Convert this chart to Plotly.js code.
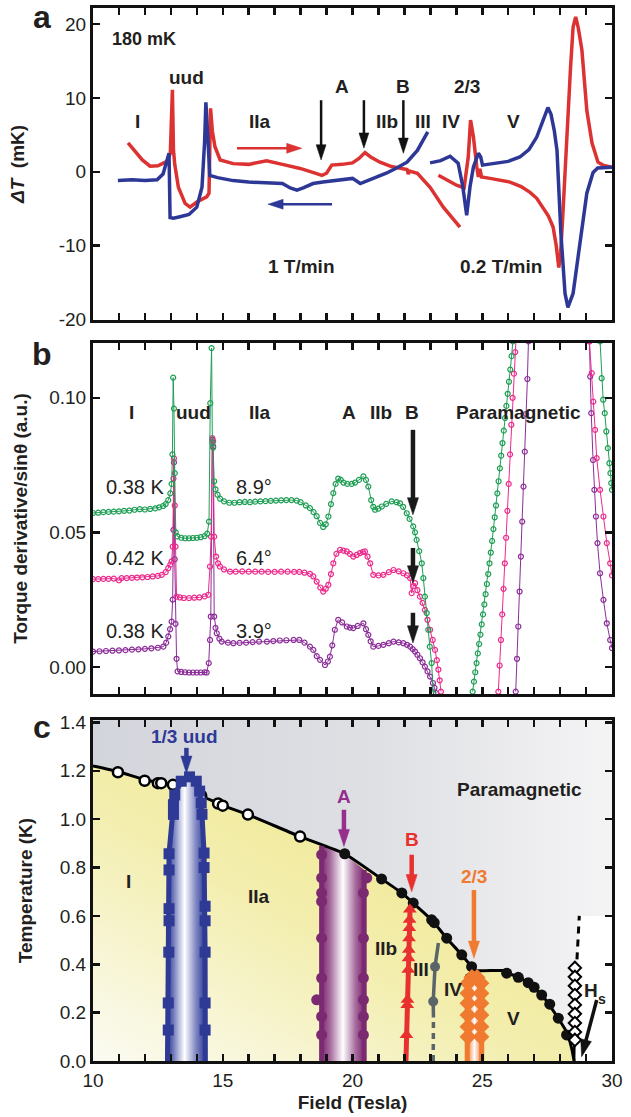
<!DOCTYPE html>
<html><head><meta charset="utf-8">
<script src="https://cdn.plot.ly/plotly-3.0.1.min.js"></script>
<style>html,body{margin:0;padding:0;background:#fff}#chart{width:631px;height:1117px}</style>
</head><body><div id="chart"></div>
<script>
// ---------------- Panel a : ΔT (mK) vs field ----------------
const redUpX1 = [11.35,11.6,11.9,12.2,12.5,12.85,12.98,13.06,13.1,13.15,13.29,13.55,13.74,14.0,14.38,14.47,14.53,14.6,14.7,14.9,15.4,16.0,16.69,17.3,17.98,18.62,18.82,19.0,19.2,19.6,20.0,20.25,20.48,20.7,21.06,21.5,21.83,22.1,22.15,22.2,22.5,22.99,23.5,24.14];
const redUpY1 = [3.9,2.9,1.6,0.75,0.8,1.4,2.5,11.1,3.0,1.0,-2.1,-4.3,-4.8,-4.1,-3.4,-2.9,8.6,5.5,3.4,1.6,1.1,1.0,1.5,1.0,0.45,-0.25,-0.5,-0.2,0.9,1.0,1.2,1.8,2.6,2.0,1.3,0.7,0.5,0.3,-0.3,0.1,-0.2,-2.1,-4.8,-7.5];
const redUpX2 = [23.31,23.7,24.01,24.3,24.46,24.55,24.66,24.79,24.85,24.91,24.97,25.3,25.6,26.07,26.5,26.84,27.1,27.34,27.55,27.73,27.85,27.95,28.02,28.1,28.2,28.3,28.4,28.5,28.6,28.7,28.84,29.03,29.23,29.46,29.65,30.0];
const redUpY2 = [-0.47,-1.2,-1.83,-2.2,2.0,7.0,4.7,0.65,-0.7,0.4,-0.7,-0.9,-1.1,-1.4,-2.0,-2.8,-3.6,-4.8,-6.0,-7.5,-10.0,-13.0,-11.0,-6.2,1.0,7.4,14.0,19.6,21.0,19.5,16.5,8.3,3.9,1.3,0.9,0.6];
const blueDownX1 = [10.96,11.5,12.0,12.47,12.7,12.85,12.93,12.97,13.1,13.35,13.7,14.0,14.2,14.3,14.35,14.42,14.5,14.8,15.4,16.0,16.7,17.3,17.6,17.86,18.1,18.48,18.86,19.4,20.0,20.3,20.6,20.94,21.3,21.7,22.1,22.5,22.9];
const blueDownY1 = [-1.2,-1.1,-1.2,-1.1,-0.3,1.5,2.5,-6.2,-6.3,-6.1,-5.8,-4.8,-2.1,4.0,9.4,5.0,-0.5,-0.8,-1.2,-1.4,-1.5,-1.6,-2.2,-2.5,-2.2,-1.6,-1.4,-1.2,-0.9,-1.6,-1.2,-0.7,-0.2,0.5,1.3,2.9,5.4];
const blueDownX2 = [22.99,23.4,23.76,24.07,24.25,24.4,24.53,24.66,24.85,24.94,25.01,25.57,26.0,26.45,26.8,27.1,27.35,27.53,27.65,27.78,27.88,27.96,28.03,28.19,28.3,28.5,28.77,29.03,29.27,29.45,30.0];
const blueDownY2 = [1.2,1.5,2.1,1.15,-2.0,-5.9,-2.0,0.65,2.5,2.0,0.9,1.2,1.4,2.0,3.0,4.7,7.0,8.7,7.8,5.5,2.9,-3.0,-8.3,-16.5,-18.4,-16.5,-9.3,-2.9,-0.1,0.5,0.6];
const dTTickVals = [-20,-10,0,10,20];
const dTTickText = ['-20','-10','0','10','20'];

// ---------------- Panel b : torque derivative ----------------
const g89X = [10.0,10.2,10.4,10.6,10.8,11.0,11.2,11.4,11.6,11.8,12.0,12.2,12.4,12.55,12.7,12.8,12.9,12.98,13.03,13.06,13.09,13.12,13.15,13.19,13.25,13.4,13.55,13.7,13.85,14.0,14.15,14.3,14.4,14.47,14.52,14.57,14.6,14.63,14.67,14.72,14.8,14.9,15.05,15.25,15.45,15.65,15.85,16.05,16.25,16.45,16.65,16.85,17.05,17.25,17.45,17.65,17.85,18.0,18.2,18.36,18.5,18.62,18.75,18.87,18.97,19.07,19.17,19.26,19.35,19.45,19.55,19.65,19.8,19.97,20.1,20.25,20.42,20.52,20.61,20.72,20.8,20.87,21.0,21.13,21.3,21.51,21.7,21.83,21.95,22.09,22.2,22.34,22.41,22.47,22.57,22.67,22.73,22.79,22.86,22.92,22.98,23.05,23.11,
  null,24.63,24.68,24.73,24.78,24.83,24.88,24.93,24.98,25.03,25.08,25.13,25.18,25.23,25.28,25.33,25.38,25.43,25.48,25.53,25.58,25.63,25.68,25.73,25.78,25.83,25.88,25.93,25.98,26.03,26.08,26.13,26.18,
  null,29.54,29.6,29.66,29.72,29.78,29.84,29.9,29.94,29.97,30.0];
const g89Y = [.0572,.0573,.0575,.0576,.0577,.0578,.0580,.0581,.0584,.0586,.0585,.0587,.0589,.0593,.0598,.0605,.0620,.0645,.0680,.0790,.1075,.0960,.0720,.0500,.0485,.0480,.0478,.0478,.0479,.0480,.0482,.0486,.0495,.0540,.0980,.1185,.0835,.0815,.0690,.0660,.0640,.0625,.0615,.0610,.0610,.0612,.0613,.0612,.0614,.0615,.0616,.0617,.0618,.0619,.0620,.0620,.0618,.0612,.0600,.0590,.0575,.0560,.0535,.0520,.0530,.0559,.0605,.0646,.0680,.0700,.0695,.0685,.0680,.0680,.0685,.0695,.0708,.0695,.0670,.0620,.0595,.0584,.0588,.0596,.0606,.0615,.0612,.0608,.0595,.0571,.0550,.0522,.0500,.0472,.0430,.0385,.0330,.0261,.0200,.0138,.0075,.0014,-.0098,
  null,-.0092,-.0055,-.0020,.0014,.0050,.0085,.0120,.0158,.0195,.0232,.0270,.0308,.0345,.0385,.0425,.0468,.0512,.0556,.0600,.0645,.0690,.0738,.0785,.0832,.0878,.0925,.0970,.1015,.1060,.1105,.1155,.1210,
  null,.1210,.1073,.0993,.0943,.0875,.0813,.0757,.0720,.0683,.0658];
const p64X = [10.0,10.2,10.4,10.6,10.8,11.0,11.1,11.3,11.5,11.7,11.9,12.1,12.3,12.5,12.65,12.8,12.9,12.98,13.03,13.07,13.1,13.12,13.15,13.18,13.22,13.35,13.5,13.7,13.9,14.1,14.3,14.44,14.51,14.55,14.6,14.63,14.67,14.74,14.82,14.89,15.05,15.28,15.5,15.75,16.0,16.25,16.5,16.75,17.0,17.25,17.5,17.75,17.95,18.15,18.36,18.49,18.62,18.76,18.87,18.97,19.07,19.17,19.26,19.38,19.52,19.65,19.78,19.9,20.03,20.16,20.29,20.4,20.48,20.58,20.68,20.8,21.0,21.19,21.4,21.58,21.78,21.96,22.1,22.22,22.28,22.34,22.41,22.5,22.6,22.7,22.79,22.89,22.99,23.09,23.18,23.25,23.31,23.36,23.41,
  null,25.62,25.67,25.72,25.77,25.82,25.87,25.92,25.97,26.02,26.07,26.12,26.17,26.22,26.27,26.3,
  null,29.13,29.22,29.28,29.35,29.41,29.54,29.67,29.8,29.93,30.0];
const p64Y = [.0326,.0326,.0327,.0327,.0328,.0322,.0330,.0330,.0331,.0332,.0333,.0334,.0336,.0338,.0342,.0352,.0367,.0380,.0392,.0447,.0700,.0775,.0600,.0447,.0261,.0258,.0256,.0256,.0257,.0258,.0262,.0268,.0373,.0484,.0850,.0838,.0484,.0410,.0385,.0373,.0362,.0354,.0354,.0355,.0354,.0354,.0354,.0353,.0353,.0354,.0354,.0353,.0353,.0350,.0346,.0336,.0317,.0295,.0280,.0290,.0305,.0345,.0385,.0420,.0435,.0432,.0429,.0420,.0410,.0416,.0423,.0427,.0429,.0410,.0385,.0342,.0340,.0342,.0352,.0360,.0355,.0348,.0340,.0330,.0274,.0300,.0311,.0285,.0261,.0238,.0212,.0175,.0138,.0100,.0063,.0025,-.0010,-.0050,-.0092,
  null,-.0092,.0005,.0100,.0195,.0290,.0385,.0480,.0580,.0680,.0790,.0900,.1000,.1090,.1170,.1215,
  null,.1210,.1092,.0986,.0881,.0776,.0658,.0559,.0460,.0385,.0340];
const p39X = [10.0,10.25,10.5,10.75,11.0,11.25,11.5,11.75,12.0,12.25,12.5,12.71,12.82,12.9,12.97,13.03,13.07,13.1,13.12,13.15,13.18,13.22,13.26,13.4,13.55,13.7,13.85,14.0,14.15,14.3,14.38,14.46,14.51,14.54,14.6,14.63,14.67,14.72,14.77,14.87,14.96,15.2,15.41,15.65,15.9,16.15,16.4,16.7,16.95,17.2,17.45,17.73,17.95,18.15,18.36,18.49,18.62,18.75,18.94,19.05,19.13,19.22,19.32,19.45,19.6,19.78,19.9,20.03,20.2,20.42,20.52,20.61,20.7,20.8,21.0,21.19,21.4,21.58,21.78,21.96,22.1,22.22,22.32,22.41,22.5,22.6,22.7,22.79,22.89,22.99,23.1,23.16,23.22,
  null,26.29,26.34,26.39,26.44,26.49,26.54,26.59,26.64,26.69,26.74,26.78,
  null,29.13,29.16,29.2,29.27,29.32,29.38,29.44,29.54,29.67,29.8,29.93,30.0];
const p39Y = [.0057,.0058,.0059,.0060,.0061,.0062,.0064,.0065,.0067,.0069,.0071,.0075,.0090,.0113,.0140,.0168,.0250,.0509,.0760,.0400,.0160,.0030,-.0017,-.0019,-.0020,-.0021,-.0021,-.0021,-.0021,-.0020,-.0021,.0014,.0100,.0187,.0844,.0820,.0187,.0145,.0125,.0105,.0094,.0090,.0088,.0089,.0090,.0092,.0094,.0094,.0096,.0098,.0099,.0100,.0100,.0090,.0075,.0063,.0040,.0026,.0007,.0020,.0038,.0080,.0138,.0175,.0165,.0150,.0146,.0144,.0152,.0162,.0140,.0119,.0095,.0075,.0078,.0082,.0088,.0094,.0091,.0088,.0082,.0075,.0066,.0057,.0045,.0032,.0017,.0001,-.0017,-.0036,-.0060,-.0078,-.0098,
  null,-.0092,.0030,.0150,.0280,.0410,.0540,.0670,.0800,.0940,.1070,.1210,
  null,.1210,.1079,.0943,.0769,.0658,.0559,.0460,.0348,.0249,.0162,.0100,.0070];
const torqueTickVals = [0, 0.05, 0.10];

// ---------------- Panel c : phase diagram ----------------
const bndX = [10,10.96,11.97,12.58,12.97,14.2,14.82,15.0,15.97,17.98,19.7,21.12,21.9,22.34,23.05,23.63,24.21,24.59,24.75,25.8,25.95,26.38,26.76,27.3,27.92,28.27,28.45,28.54];
const bndT = [1.22,1.197,1.164,1.15,1.14,1.094,1.065,1.056,1.019,0.928,0.857,0.753,0.695,0.653,0.584,0.508,0.439,0.39,0.374,0.374,0.364,0.348,0.323,0.273,0.178,0.116,0.05,0];
const openX = [10.96,11.99,12.5,12.63,13.08,14.17,14.82,15.0,15.97,17.98];
const openT = [1.194,1.159,1.149,1.149,1.142,1.097,1.065,1.056,1.019,0.928];
const fillX = [19.7,21.12,21.9,22.34,23.05,23.15,23.63,24.21,24.59,24.53,25.94,26.39,26.77,27.0,27.29,27.6,27.93,28.25];
const fillT = [0.857,0.753,0.695,0.653,0.584,0.572,0.508,0.439,0.39,0.343,0.363,0.346,0.324,0.305,0.273,0.235,0.177,0.108];
const uudEdgeX = [12.87,12.9,12.93,13.05,13.15,13.4,13.7,13.98,14.11,14.2,14.28,14.32,14.33];
const uudEdgeT = [0,0.45,0.86,1.0,1.1,1.157,1.175,1.157,1.116,1.02,0.86,0.45,0];
const uudSqX = [12.9,12.9,12.92,12.93,12.93,12.93,12.93,13.1,13.1,13.15,13.4,13.72,13.98,14.11,14.17,14.2,14.28,14.28,14.32,14.32,14.32,14.32,14.32];
const uudSqT = [0.128,0.24,0.45,0.58,0.63,0.79,0.857,1.02,1.06,1.10,1.157,1.175,1.157,1.116,1.067,1.02,0.86,0.80,0.64,0.58,0.45,0.24,0.128];
const aBandX = [18.81,18.81,19.7,20.45,20.45];
const aBandT = [0,0.89,0.857,0.79,0];
const aDotX = [18.81,18.81,18.81,18.81,18.81,18.81,18.62,18.81,18.81,20.55,20.42,20.42,20.42,20.42,20.42,20.42];
const aDotT = [0.853,0.757,0.695,0.66,0.508,0.343,0.253,0.184,0.108,0.757,0.695,0.508,0.343,0.253,0.184,0.108];
const bLineX = [22.06,22.22];
const bLineT = [0,0.64];
const bTriX = [22.21,22.2,22.19,22.18,22.17,22.16,22.15,22.12,22.11,22.08];
const bTriT = [0.626,0.584,0.55,0.508,0.46,0.425,0.377,0.253,0.232,0.108];
const iiiSolidX = [23.12,23.11,23.18,23.31];
const iiiSolidT = [0.18,0.246,0.39,0.488];
const iiiDashX = [23.11,23.12];
const iiiDashT = [0,0.18];
const iiiDotX = [23.18,23.11];
const iiiDotT = [0.39,0.246];
const twoThirdBandX = [24.42,24.42,24.55,24.85,24.98,24.98];
const twoThirdBandT = [0,0.33,0.355,0.355,0.33,0];
const twoThirdDiaX = [24.45,24.45,24.45,24.45,24.45,24.45,24.95,24.95,24.95,24.95,24.95,24.95,24.6,24.8];
const twoThirdDiaT = [0.322,0.28,0.239,0.19,0.142,0.1,0.322,0.28,0.239,0.19,0.142,0.1,0.345,0.345];
const hsDiaX = [28.57,28.57,28.57,28.57,28.57,28.57,28.57,28.57,28.57];
const hsDiaT = [0.385,0.348,0.311,0.273,0.232,0.195,0.157,0.12,0.087];
const hsLineX = [28.54,28.6];
const hsLineT = [0,0.4];
const hsDashX = [28.65,28.74];
const hsDashT = [0.42,0.6];
const fieldMajor = [10,15,20,25,30];
const tempTicks = [0,0.2,0.4,0.6,0.8,1.0,1.2,1.4];

// ---------------- arrows (tail -> tip) ----------------
const arrowsA = [ // panel a
  {x:[18.79,18.79], y:[9.7,1.6], c:'#111', w:2.5, s:16},
  {x:[20.44,20.44], y:[9.7,3.2], c:'#111', w:2.5, s:16},
  {x:[21.96,21.96], y:[9.7,2.5], c:'#111', w:2.5, s:16},
  {x:[15.55,18.05], y:[3.18,3.18], c:'#dc3232', w:2.5, s:16},
  {x:[19.21,16.74], y:[-4.4,-4.4], c:'#2d3796', w:2.5, s:16}
];
const arrowsB = [ // panel b
  {x:[22.33,22.33], y:[0.0881,0.0565], c:'#1a1a1a', w:4.5, s:18},
  {x:[22.33,22.33], y:[0.0442,0.0312], c:'#1a1a1a', w:4.5, s:18},
  {x:[22.33,22.33], y:[0.0201,0.0089], c:'#1a1a1a', w:4.5, s:18}
];
const arrowsC = [ // panel c
  {x:[13.6,13.6], y:[1.295,1.19], c:'#2e3a96', w:4.5, s:18},
  {x:[19.67,19.67], y:[1.039,0.887], c:'#962f8c', w:4.5, s:18},
  {x:[22.28,22.28], y:[0.853,0.70], c:'#e8312f', w:4.5, s:18},
  {x:[24.68,24.68], y:[0.707,0.425], c:'#f07a30', w:4.5, s:18},
  {x:[29.41,28.83], y:[0.252,0.018], c:'#111', w:3.5, s:18}
];

// ---------------- build ----------------
const FONT = 'Liberation Sans, Arial, Helvetica, sans-serif';
const TXT = '#231f20';
const RED = '#dc3232', BLUE = '#2d3796';
const GREEN = '#1f9e55', PINK = '#ec2a8c', PURP = '#8c2d99';
const ABLUE = '#2e3a96', APURP = '#7b2a72', AMAG = '#962f8c', BRED = '#e8312f', ORANGE = '#f07a30', IIIGRAY = '#5a6569';

function join(a, b) { return a.concat([null], b); }

const traces = [];
// panel a
traces.push({x: join(redUpX1, redUpX2), y: join(redUpY1, redUpY2), xaxis:'x3', yaxis:'y3', mode:'lines', line:{color:RED, width:3.5}, hoverinfo:'skip'});
traces.push({x: join(blueDownX1, blueDownX2), y: join(blueDownY1, blueDownY2), xaxis:'x3', yaxis:'y3', mode:'lines', line:{color:BLUE, width:3.5}, hoverinfo:'skip'});
// panel b
[[p39X,p39Y,PURP],[p64X,p64Y,PINK],[g89X,g89Y,GREEN]].forEach(([x,y,c]) => {
  traces.push({x, y, xaxis:'x2', yaxis:'y2', mode:'lines+markers', connectgaps:false,
    line:{color:c, width:1}, marker:{symbol:'circle-open', size:5, color:c, line:{width:1.2, color:c}}, hoverinfo:'skip'});
});
// panel c backgrounds
const grayX = [10].concat(bndX, [28.74, 30, 30, 10]);
const grayT = [1.41].concat(bndT, [0.6, 0.6, 1.41, 1.41]);
traces.push({x: grayX, y: grayT, mode:'lines', fill:'toself', line:{width:0},
  fillgradient:{type:'horizontal', colorscale:[[0,'#d3d5dc'],[0.55,'#dfe0e4'],[1,'#f4f4f5']]}, hoverinfo:'skip'});
traces.push({x:[28.54,28.74,30,30], y:[0,0.6,0.6,0], mode:'lines', fill:'toself', fillcolor:'#ffffff', line:{width:0}, hoverinfo:'skip'});
// bands
traces.push({x: aBandX, y: aBandT, mode:'lines', fill:'toself', line:{width:0},
  fillgradient:{type:'horizontal', colorscale:[[0,'#7b2a72'],[0.2,'#a66a9c'],[0.5,'#ffffff'],[0.8,'#a66a9c'],[1,'#7b2a72']]}, hoverinfo:'skip'});
traces.push({x: twoThirdBandX, y: twoThirdBandT, mode:'lines', fill:'toself', line:{width:0},
  fillgradient:{type:'horizontal', colorscale:[[0,'#f07a30'],[0.5,'#ffffff'],[1,'#f07a30']]}, hoverinfo:'skip'});
// boundary
traces.push({x: bndX, y: bndT, mode:'lines', line:{color:'#000', width:3, shape:'spline', smoothing:0.4}, hoverinfo:'skip'});
traces.push({x: openX, y: openT, mode:'markers', marker:{symbol:'circle', size:10, color:'#fff', line:{color:'#000', width:2.5}}, hoverinfo:'skip'});
traces.push({x: fillX, y: fillT, mode:'markers', marker:{symbol:'circle', size:11, color:'#111'}, hoverinfo:'skip'});
// uud dome
traces.push({x: uudEdgeX, y: uudEdgeT, mode:'lines', fill:'toself', line:{color:ABLUE, width:5},
  fillgradient:{type:'horizontal', colorscale:[[0,'#2e3a96'],[0.15,'#6d77b8'],[0.45,'#ffffff'],[0.75,'#7f88c2'],[1,'#2e3a96']]}, hoverinfo:'skip'});
traces.push({x: uudSqX, y: uudSqT, mode:'markers', marker:{symbol:'square', size:11, color:ABLUE}, hoverinfo:'skip'});
// A lines
traces.push({x:[aBandX[0],aBandX[1],null,aBandX[3],aBandX[4]], y:[aBandT[0],aBandT[1],null,aBandT[3],aBandT[4]], mode:'lines', line:{color:APURP, width:5}, hoverinfo:'skip'});
traces.push({x: aDotX, y: aDotT, mode:'markers', marker:{symbol:'circle', size:11, color:APURP}, hoverinfo:'skip'});
// B
traces.push({x: bLineX, y: bLineT, mode:'lines', line:{color:BRED, width:5}, hoverinfo:'skip'});
traces.push({x: bTriX, y: bTriT, mode:'markers', marker:{symbol:'triangle-up', size:12, color:BRED}, hoverinfo:'skip'});
// III
traces.push({x: iiiSolidX, y: iiiSolidT, mode:'lines', line:{color:IIIGRAY, width:3.5}, hoverinfo:'skip'});
traces.push({x: iiiDashX, y: iiiDashT, mode:'lines', line:{color:IIIGRAY, width:3.5, dash:'6px,5px'}, hoverinfo:'skip'});
traces.push({x: iiiDotX, y: iiiDotT, mode:'markers', marker:{symbol:'circle', size:10, color:IIIGRAY}, hoverinfo:'skip'});
// 2/3
traces.push({x:[twoThirdBandX[0],twoThirdBandX[1],null,twoThirdBandX[4],twoThirdBandX[5]], y:[twoThirdBandT[0],twoThirdBandT[1],null,twoThirdBandT[4],twoThirdBandT[5]], mode:'lines', line:{color:ORANGE, width:5}, hoverinfo:'skip'});
traces.push({x: twoThirdDiaX, y: twoThirdDiaT, mode:'markers', marker:{symbol:'diamond', size:13, color:ORANGE}, hoverinfo:'skip'});
// Hs
traces.push({x: hsLineX, y: hsLineT, mode:'lines', line:{color:'#000', width:2.5}, hoverinfo:'skip'});
traces.push({x: hsDashX, y: hsDashT, mode:'lines', line:{color:'#000', width:3, dash:'7px,6px'}, hoverinfo:'skip'});
traces.push({x: hsDiaX, y: hsDiaT, mode:'markers', marker:{symbol:'diamond', size:9.5, color:'#fff', line:{color:'#000', width:2}}, hoverinfo:'skip'});

// arrows as line traces with arrow-head markers
function pushArrows(list, xa, ya) {
  list.forEach(a => traces.push({x:a.x, y:a.y, xaxis:xa, yaxis:ya, mode:'lines+markers',
    line:{color:a.c, width:a.w}, marker:{symbol:'arrow', angleref:'previous', size:[0, a.s], color:a.c, opacity:1, line:{width:0.5, color:a.c}},
    hoverinfo:'skip'}));
}
pushArrows(arrowsA, 'x3', 'y3');
pushArrows(arrowsB, 'x2', 'y2');
pushArrows(arrowsC, 'x', 'y');

// yellow gradient background for panel c
const svg = '<svg xmlns="http://www.w3.org/2000/svg" width="200" height="200" viewBox="0 0 200 200" preserveAspectRatio="none"><defs><linearGradient id="g" x1="0" y1="1" x2="0.75" y2="0.15"><stop offset="0" stop-color="#fbfbf3"/><stop offset="0.5" stop-color="#f3eeae"/><stop offset="1" stop-color="#eee687"/></linearGradient></defs><rect width="200" height="200" fill="url(#g)"/></svg>';
const svgURI = 'data:image/svg+xml;charset=utf-8,' + encodeURIComponent(svg);

// text annotations
const ann = [];
function T(xref, yref, x, y, text, opt) {
  ann.push(Object.assign({xref, yref, x, y, text, showarrow:false, font:{family:FONT, size:19, color:TXT}}, opt||{}));
}
const bold = s => '<b>' + s + '</b>';
const big = {family:FONT, size:32, color:TXT};
T('paper','paper', -0.098, 0.991, bold('a'), {font:big, xanchor:'center', yanchor:'middle'});
T('paper','paper', -0.098, 0.6714, bold('b'), {font:big, xanchor:'center', yanchor:'middle'});
T('paper','paper', -0.098, 0.3172, bold('c'), {font:big, xanchor:'center', yanchor:'middle'});
// panel a texts
T('x3','y3', 10.655, 18.06, bold('180 mK'), {xanchor:'left', font:{family:FONT,size:18,color:TXT}});
T('x3','y3', 13.62, 12.8, bold('uud'));
T('x3','y3', 11.73, 6.75, bold('I'));
T('x3','y3', 16.44, 6.75, bold('IIa'));
T('x3','y3', 19.58, 11.5, bold('A'));
T('x3','y3', 21.96, 11.5, bold('B'));
T('x3','y3', 24.43, 11.5, bold('2/3'));
T('x3','y3', 21.32, 6.75, bold('IIb'));
T('x3','y3', 22.73, 6.75, bold('III'));
T('x3','y3', 23.78, 6.75, bold('IV'));
T('x3','y3', 26.22, 6.75, bold('V'));
T('x3','y3', 18.03, -12.9, bold('1 T/min'));
T('x3','y3', 25.74, -12.9, bold('0.2 T/min'));
// panel b texts
T('x2','y2', 11.5, 0.0944, bold('I'));
T('x2','y2', 13.87, 0.0944, bold('uud'));
T('x2','y2', 16.44, 0.0944, bold('IIa'));
T('x2','y2', 19.87, 0.0944, bold('A'));
T('x2','y2', 21.09, 0.0944, bold('IIb'));
T('x2','y2', 22.31, 0.0944, bold('B'));
T('x2','y2', 26.39, 0.0944, bold('Paramagnetic'));
const reg = {family:FONT, size:20, color:TXT};
T('x2','y2', 11.62, 0.0669, '0.38 K', {font:reg});
T('x2','y2', 11.62, 0.0405, '0.42 K', {font:reg});
T('x2','y2', 11.62, 0.0134, '0.38 K', {font:reg});
T('x2','y2', 16.2, 0.0669, '8.9°', {font:reg});
T('x2','y2', 16.2, 0.0405, '6.4°', {font:reg});
T('x2','y2', 16.2, 0.0134, '3.9°', {font:reg});
// panel c texts
T('x','y', 13.53, 1.343, bold('1/3 uud'), {font:{family:FONT,size:19,color:ABLUE}});
T('x','y', 11.36, 0.742, bold('I'));
T('x','y', 16.4, 0.68, bold('IIa'));
T('x','y', 26.45, 1.121, bold('Paramagnetic'));
T('x','y', 19.67, 1.094, bold('A'), {font:{family:FONT,size:19,color:AMAG}});
T('x','y', 22.28, 0.915, bold('B'), {font:{family:FONT,size:19,color:BRED}});
T('x','y', 24.68, 0.763, bold('2/3'), {font:{family:FONT,size:19,color:ORANGE}});
T('x','y', 21.28, 0.466, bold('IIb'));
T('x','y', 22.64, 0.377, bold('III'));
T('x','y', 23.89, 0.297, bold('IV'));
T('x','y', 26.22, 0.177, bold('V'));
T('x','y', 29.2, 0.29, bold('H'), {xanchor:'center'});
T('x','y', 29.63, 0.255, bold('s'), {xanchor:'center', font:{family:FONT,size:14,color:TXT}});

const tickCommon = {ticks:'inside', ticklen:7, tickwidth:2.5, tickcolor:'#111', showline:true, linewidth:3, linecolor:'#111',
  mirror:'ticks', showgrid:false, zeroline:false, automargin:false, tickfont:{family:FONT, size:19, color:TXT}};
function xAxis(anchor, labels, title) {
  const o = Object.assign({domain:[0,1], anchor, range:[10,30], tickvals:fieldMajor, showticklabels:labels,
    minor:{dtick:1, tick0:10, ticks:'inside', ticklen:7, tickwidth:2.5, tickcolor:'#111', showgrid:false}}, tickCommon);
  if (title) o.title = {text:title, font:{family:FONT, size:19, color:TXT}, standoff:6};
  return o;
}
function yAxis(anchor, domain, range, tickvals, ticktext, title, standoff) {
  return Object.assign({domain, anchor, range, tickvals, ticktext,
    title:{text:title, font:{family:FONT, size:19, color:TXT}, standoff}}, tickCommon);
}

const layout = {
  width:631, height:1117, margin:{l:93, r:19, t:8, b:56},
  paper_bgcolor:'#fff', plot_bgcolor:'rgba(0,0,0,0)', showlegend:false,
  font:{family:FONT, color:TXT},
  xaxis: xAxis('y', true, '<b>Field (Tesla)</b>'),
  xaxis2: Object.assign(xAxis('y2', false), {matches:'x'}),
  xaxis3: Object.assign(xAxis('y3', false), {matches:'x'}),
  yaxis: yAxis('x', [0,0.3238], [0,1.41], tempTicks, tempTicks.map(v=>v.toFixed(1)), '<b>Temperature (K)</b>', 23),
  yaxis2: yAxis('x2', [0.3485,0.6819], [-0.0101,0.1204], torqueTickVals, torqueTickVals.map(v=>v.toFixed(2)), '<b>Torque derivative/sinθ (a.u.)</b>', 17),
  yaxis3: yAxis('x3', [0.7037,1], [-20.1,22.2], dTTickVals, dTTickText, '<b><i>ΔT</i>  (mK)</b>', 30),
  images:[{source:svgURI, xref:'x', yref:'y', x:10, y:1.41, sizex:20, sizey:1.41, sizing:'stretch', xanchor:'left', yanchor:'top', layer:'below'}],
  annotations: ann
};
Plotly.newPlot('chart', traces, layout, {displayModeBar:false, staticPlot:true});
</script></body></html>
